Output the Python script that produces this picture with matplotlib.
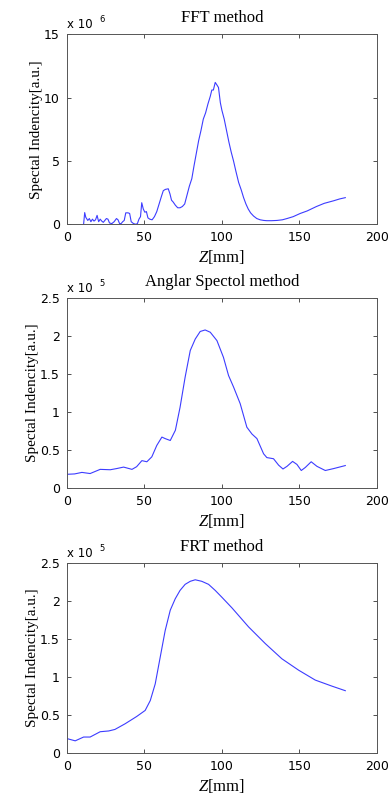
import numpy as np
import matplotlib
matplotlib.use("Agg")
import matplotlib.pyplot as plt
from matplotlib.ticker import FuncFormatter

plt.rcParams["mathtext.fontset"] = "custom"
plt.rcParams["mathtext.rm"] = "Liberation Serif"
plt.rcParams["mathtext.it"] = "Liberation Serif:italic"

# FFT method, values in units of 1e6
fft_z = [10.8, 11.5, 12.2, 13.5, 14.5, 15.5, 16.5, 17.5, 18.5, 19.5, 20.5,
         21.5, 22.5, 23.5, 24.5, 25.5, 26.5, 27.5, 29, 30.5, 32, 33, 34,
         35, 36, 37, 38, 39.5, 40.5, 41.5, 43, 44.5, 45.5, 46.5, 47.5, 48.3,
         49.3, 50.3, 51.3, 52.3, 53.5, 55, 56.5, 58, 59.5, 61, 62.2, 63.5,
         65.4, 66.5, 67.5, 68.6, 70, 71.5, 73, 74.5, 76, 77.5, 79, 80.6, 82,
         83.5, 85, 86.5, 88, 89.5, 91, 92.5, 93.5, 94.5, 95.7, 96.8, 97.8,
         99, 100, 101.5, 103, 104.5, 106, 107.5, 109, 110.8, 112.5, 114,
         115.5, 117, 118.5, 120.4, 122.5, 124.7, 127, 129, 132, 135.5, 139,
         142, 146, 150.5, 155, 161, 166, 172, 176, 179.6]
fft_val = [0.0, 0.92, 0.55, 0.3, 0.45, 0.2, 0.4, 0.25, 0.35, 0.7, 0.2,
           0.4, 0.25, 0.15, 0.3, 0.45, 0.4, 0.1, 0.05, 0.2, 0.45, 0.35, 0.05,
           0.05, 0.2, 0.3, 0.9, 0.9, 0.85, 0.2, 0.05, 0.0, 0.05, 0.4, 0.6, 1.7,
           1.2, 0.95, 1.0, 0.5, 0.4, 0.35, 0.6, 1.0, 1.6, 2.2, 2.65, 2.75,
           2.8, 2.4, 1.9, 1.75, 1.5, 1.3, 1.3, 1.4, 1.6, 2.3, 3.0, 3.6, 4.6,
           5.6, 6.6, 7.4, 8.3, 8.8, 9.5, 10.1, 10.6, 10.6, 11.2, 11.0, 10.8,
           9.6, 9.0, 8.3, 7.4, 6.5, 5.7, 5.0, 4.2, 3.3, 2.7, 2.1, 1.6, 1.2,
           0.9, 0.65, 0.45, 0.35, 0.3, 0.28, 0.28, 0.3, 0.35, 0.45, 0.6,
           0.85, 1.05, 1.4, 1.65, 1.85, 2.0, 2.1]

# Angular spectrum method, values in units of 1e5
asm_z = [0, 5, 9.7, 15, 21.5, 28, 32, 36.6, 42, 45, 48.4, 51.6, 54.8, 58,
         61.3, 63.4, 66.7, 70, 73, 76.3, 79.6, 82.8, 86, 89.2, 92.5, 96.8,
         101, 104.3, 107.5, 111.8, 116.1, 119.4, 122.6, 126.9, 129, 133.3,
         136.6, 139.4, 142, 145.6, 148.4, 151.2, 153.8, 157.6, 161.3, 166.7,
         172, 179.6]
asm_val = [0.18, 0.185, 0.205, 0.19, 0.245, 0.24, 0.255, 0.275, 0.245, 0.28,
           0.36, 0.345, 0.41, 0.56, 0.67, 0.65, 0.625, 0.76, 1.06, 1.46,
           1.81, 1.96, 2.06, 2.08, 2.05, 1.94, 1.72, 1.48, 1.33, 1.11, 0.8,
           0.71, 0.65, 0.45, 0.40, 0.385, 0.30, 0.25, 0.285, 0.35, 0.31, 0.23,
           0.27, 0.345, 0.285, 0.23, 0.255, 0.295]

# FRT method, values in units of 1e5
frt_z = [0, 5.4, 10.8, 15, 21.5, 27, 31, 37.6, 45, 50.5, 53.8, 57, 60.2,
         63.4, 66.7, 69.9, 73, 76.3, 79.6, 82.8, 87, 91.4, 95.7, 100, 106.5,
         117.2, 128, 138.7, 149.5, 160.2, 171, 179.6]
frt_val = [0.19, 0.16, 0.21, 0.21, 0.28, 0.29, 0.31, 0.385, 0.48, 0.56, 0.69,
           0.91, 1.26, 1.61, 1.88, 2.03, 2.14, 2.22, 2.26, 2.28, 2.26, 2.22,
           2.14, 2.05, 1.91, 1.66, 1.44, 1.24, 1.09, 0.96, 0.88, 0.82]

panels = [
    ("FFT method", fft_z, fft_val, 6, [0, 5, 10, 15]),
    ("Anglar Spectol method", asm_z, asm_val, 5, [0, 0.5, 1, 1.5, 2, 2.5]),
    ("FRT method", frt_z, frt_val, 5, [0, 0.5, 1, 1.5, 2, 2.5]),
]
x_ticks = [0, 50, 100, 150, 200]

SERIF = "Liberation Serif"
SANS = "DejaVu Sans"

fig = plt.figure(figsize=(3.91, 7.98), dpi=100)
bottoms = [0.719, 0.3885, 0.0564]

for (title, z, v, exp, yt), b in zip(panels, bottoms):
    ax = fig.add_axes([0.171, b, 0.793, 0.238])
    ax.plot(z, v, color="#3c3cff", linewidth=0.8)
    ax.set_xlim(0, 200)
    ax.set_ylim(yt[0], yt[-1])
    ax.set_xticks(x_ticks)
    ax.set_yticks(yt)
    ax.yaxis.set_major_formatter(FuncFormatter(lambda t, p: "%g" % t))
    ax.tick_params(direction="in", length=3, width=0.6, top=True, right=True,
                   labelsize=9, pad=5, colors="#333333", labelcolor="black")
    for lab in ax.get_xticklabels() + ax.get_yticklabels():
        lab.set_fontfamily(SANS)
    for s in ax.spines.values():
        s.set_linewidth(0.7)
        s.set_color("#555555")
    ax.set_title(title, fontfamily=SERIF, fontsize=12, pad=9)
    ax.set_ylabel("Spectal Indencity[a.u.]", fontfamily=SERIF, fontsize=11,
                  labelpad=1)
    ax.set_xlabel(r"$Z$[mm]", fontfamily=SERIF, fontsize=12, labelpad=3)
    ax.text(0.0, 1.015, "x 10", transform=ax.transAxes,
            fontfamily=SANS, fontsize=8.5, ha="left", va="bottom")
    ax.text(0.105, 1.055, str(exp), transform=ax.transAxes,
            fontfamily=SANS, fontsize=6, ha="left", va="bottom")

fig.savefig("out.png", dpi=100, facecolor="white")
